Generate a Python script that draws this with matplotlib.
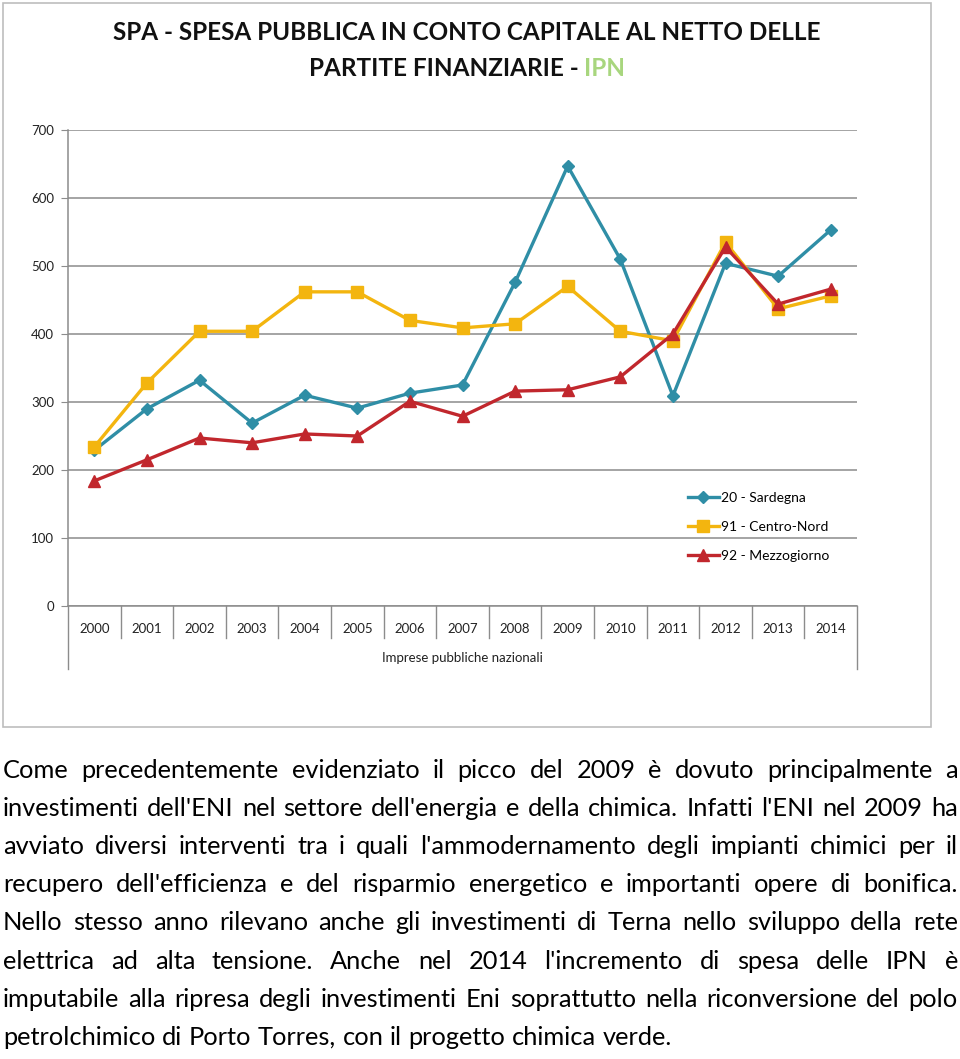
import matplotlib
matplotlib.use("Agg")
import matplotlib.pyplot as plt
import matplotlib.transforms as mtransforms
from matplotlib.patches import Rectangle

years = ["2000", "2001", "2002", "2003", "2004", "2005", "2006", "2007",
         "2008", "2009", "2010", "2011", "2012", "2013", "2014"]
sardegna = [229, 290, 332, 269, 310, 291, 313, 325, 476, 647, 510, 309, 504, 485, 553]
centro_nord = [234, 328, 404, 404, 462, 462, 420, 409, 415, 470, 404, 390, 535, 437, 456]
mezzogiorno = [184, 215, 247, 240, 253, 250, 301, 279, 316, 318, 337, 400, 528, 444, 466]
y_ticks = [0, 100, 200, 300, 400, 500, 600, 700]

paragraph = [
    "Come precedentemente evidenziato il picco del 2009 è dovuto principalmente a",
    "investimenti dell'ENI nel settore dell'energia e della chimica. Infatti l'ENI nel 2009 ha",
    "avviato diversi interventi tra i quali l'ammodernamento degli impianti chimici per il",
    "recupero dell'efficienza e del risparmio energetico e importanti opere di bonifica.",
    "Nello stesso anno rilevano anche gli investimenti di Terna nello sviluppo della rete",
    "elettrica ad alta tensione. Anche nel 2014 l'incremento di spesa delle IPN è",
    "imputabile alla ripresa degli investimenti Eni soprattutto nella riconversione del polo",
    "petrolchimico di Porto Torres, con il progetto chimica verde.",
]

W, H = 960, 1059
FONT = "Lato"
GRID = "#8c8c8c"

fig = plt.figure(figsize=(W / 100, H / 100), dpi=100)
fig.patch.set_facecolor("white")

# frame around the chart image
fig.add_artist(Rectangle((3 / W, 1 - 727 / H), 928 / W, 724 / H, transform=fig.transFigure,
                         fill=False, edgecolor="#bdbdbd", linewidth=1.2))

# title
TSIZE = 17.5
fig.text(467 / W, 1 - 33 / H, "SPA - SPESA PUBBLICA IN CONTO CAPITALE AL NETTO DELLE",
         ha="center", va="center", fontsize=TSIZE, fontweight="bold", family=FONT, color="#111111")
t1 = fig.text(0, 0, "PARTITE FINANZIARIE - ", fontsize=TSIZE, fontweight="bold", family=FONT)
t2 = fig.text(0, 0, "IPN", fontsize=TSIZE, fontweight="bold", family=FONT, color="#a8d67e")
r = fig.canvas.get_renderer()
w1 = t1.get_window_extent(r).width
w2 = t2.get_window_extent(r).width
x0 = 467 - (w1 + w2) / 2
t1.set_position((x0 / W, 1 - 68 / H)); t1.set_va("center"); t1.set_color("#111111")
t2.set_position(((x0 + w1) / W, 1 - 68 / H)); t2.set_va("center")

ax = fig.add_axes([68 / W, 1 - 606 / H, 789 / W, 476 / H])
x = list(range(len(years)))

ax.plot(x, sardegna, color="#2f8ea6", linewidth=2.4, marker="D", markersize=6,
        label="20 - Sardegna", zorder=3)
ax.plot(x, centro_nord, color="#f3b50f", linewidth=2.4, marker="s", markersize=9,
        label="91 - Centro-Nord", zorder=4)
ax.plot(x, mezzogiorno, color="#c1272d", linewidth=2.4, marker="^", markersize=9,
        label="92 - Mezzogiorno", zorder=5)

ax.set_xlim(-0.5, len(years) - 0.5)
ax.set_ylim(0, 700)
ax.set_yticks(y_ticks)
ax.set_yticklabels([str(v) for v in y_ticks], family=FONT, fontsize=9.5, color="#222222")
ax.set_xticks(x)
ax.set_xticklabels(years, family=FONT, fontsize=9.5, color="#222222")
ax.tick_params(axis="y", length=5, color=GRID, pad=5)
ax.tick_params(axis="x", length=0, pad=12)
ax.grid(axis="y", color=GRID, linewidth=1.1)
ax.set_axisbelow(True)
for s in ["top", "right"]:
    ax.spines[s].set_visible(False)
for s in ["left", "bottom"]:
    ax.spines[s].set_color(GRID)
    ax.spines[s].set_linewidth(1.1)

# category separators under the axis
trans = mtransforms.blended_transform_factory(ax.transData, ax.transAxes)
for i in range(len(years) + 1):
    xb = i - 0.5
    low = -0.133 if i in (0, len(years)) else -0.068
    ax.plot([xb, xb], [0, low], transform=trans, color=GRID, linewidth=1.0, clip_on=False)
ax.text(0.5, -0.11, "Imprese pubbliche nazionali", transform=ax.transAxes, ha="center",
        va="center", family=FONT, fontsize=9.5, color="#222222")

leg = ax.legend(loc="upper left", bbox_to_anchor=(0.77, 0.265), frameon=False,
                prop={"family": FONT, "size": 10}, handlelength=2.2, handletextpad=0.2,
                labelspacing=1.2)

# justified paragraph
size = 18.3
left, right = 3, 958
y = 770
for n, line in enumerate(paragraph):
    words = line.split(" ")
    objs = [fig.text(0, 1 - y / H, w_, family=FONT, fontsize=size, va="center", color="#000000")
            for w_ in words]
    widths = [o.get_window_extent(r).width for o in objs]
    if n < len(paragraph) - 1:
        gap = (right - left - sum(widths)) / (len(words) - 1)
    else:
        sp = fig.text(0, 0, "a a", family=FONT, fontsize=size)
        sa = fig.text(0, 0, "aa", family=FONT, fontsize=size)
        gap = sp.get_window_extent(r).width - sa.get_window_extent(r).width
        sp.remove(); sa.remove()
    xx = left
    for o, wd in zip(objs, widths):
        o.set_x(xx / W)
        xx += wd + gap
    y += 38.2

fig.savefig("out.png", dpi=100)
